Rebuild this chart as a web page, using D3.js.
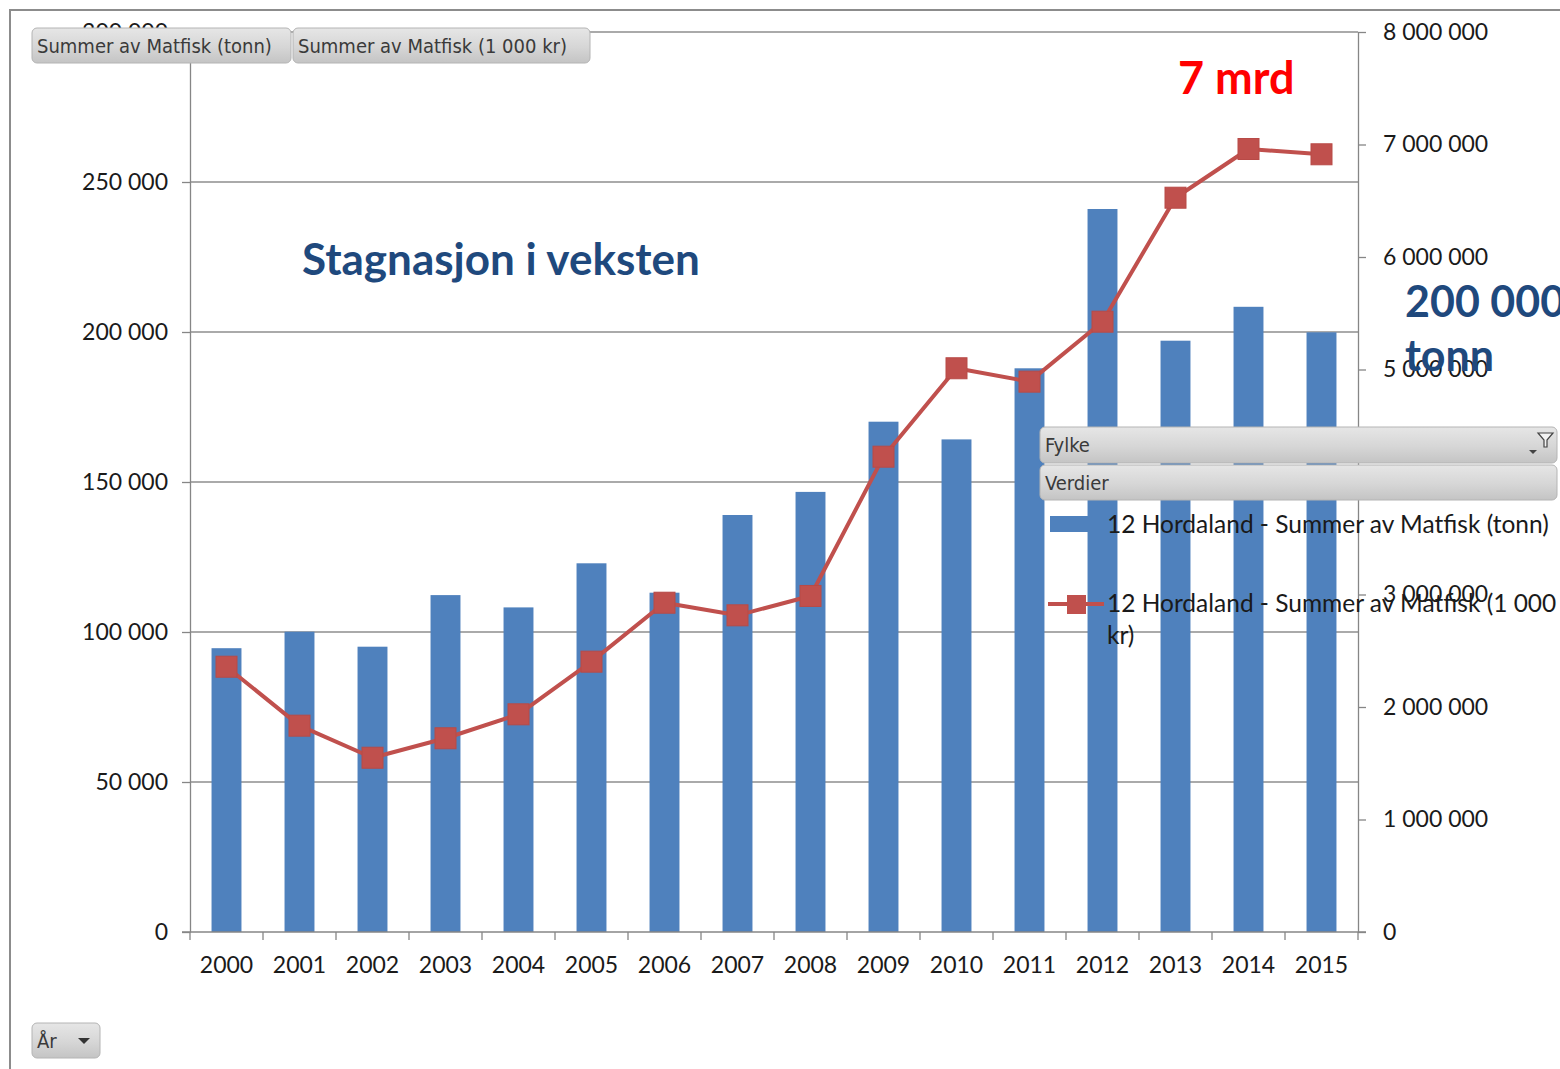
<!DOCTYPE html>
<html lang="no">
<head>
<meta charset="UTF-8">
<title>Matfisk Hordaland</title>
<script src="https://cdn.jsdelivr.net/npm/d3@7"></script>
<style>
  body { margin: 0; background: #fff; }
  text { font-family: Lato, "Open Sans", sans-serif; }
  .axis text { font-size: 23px; fill: #1a1a1a; }
  .axis path, .axis line { stroke: #868686; }
  .btn text { font-family: "DejaVu Sans Condensed", "DejaVu Sans", sans-serif; font-size: 20px; fill: #3a3a3a; }
</style>
</head>
<body>
<svg id="chart" width="1560" height="1069"></svg>
<script>
// data
const years = ['2000','2001','2002','2003','2004','2005','2006','2007','2008','2009','2010','2011','2012','2013','2014','2015']
const tonn = [94600, 100100, 95100, 112300, 108200, 122900, 113100, 139000, 146700, 170100, 164200, 187900, 241000, 197100, 208400, 199900]
const kroner = [2358000, 1834000, 1549000, 1722000, 1935000, 2403000, 2927000, 2815000, 2987000, 4225000, 5011000, 4892000, 5425000, 6527000, 6960000, 6913000]
const leftTicks = [0, 50000, 100000, 150000, 200000, 250000, 300000]
const rightTicks = [0, 1000000, 2000000, 3000000, 4000000, 5000000, 6000000, 7000000, 8000000]
const buttons = ['Summer av Matfisk (tonn)', 'Summer av Matfisk (1 000 kr)']
const legendItems = ['12 Hordaland - Summer av Matfisk (tonn)', '12 Hordaland - Summer av Matfisk (1 000', 'kr)']

const BLUE = '#4f81bd'
const RED = '#c0504d'

const svg = d3.select('#chart')
const plot = { left: 190, right: 1358, top: 32, bottom: 932 }

const fmt = v => d3.format(',')(v).replace(/,/g, ' ')

// scales
const x = d3.scaleBand()
  .domain(years)
  .range([plot.left, plot.right])
  .paddingInner(0.59)
  .paddingOuter(0.295)

const yL = d3.scaleLinear().domain([0, 300000]).range([plot.bottom, plot.top])
const yR = d3.scaleLinear().domain([0, 8000000]).range([plot.bottom, plot.top])

// gradient for the pivot buttons
const defs = svg.append('defs')
const grad = defs.append('linearGradient').attr('id', 'btnGrad').attr('x1', 0).attr('y1', 0).attr('x2', 0).attr('y2', 1)
grad.append('stop').attr('offset', '0%').attr('stop-color', '#e6e6e6')
grad.append('stop').attr('offset', '55%').attr('stop-color', '#d6d6d6')
grad.append('stop').attr('offset', '100%').attr('stop-color', '#c4c4c4')

// outer frame
svg.append('path')
  .attr('d', 'M10,1069 L10,10 L1560,10')
  .attr('fill', 'none')
  .attr('stroke', '#8c8c8c')
  .attr('stroke-width', 2)

// gridlines
svg.append('g')
  .selectAll('line')
  .data(leftTicks.filter(d => d > 0))
  .join('line')
  .attr('x1', plot.left).attr('x2', plot.right)
  .attr('y1', d => yL(d)).attr('y2', d => yL(d))
  .attr('stroke', '#8e8e8e')
  .attr('stroke-width', 1.3)

// bars
svg.append('g')
  .selectAll('rect')
  .data(years)
  .join('rect')
  .attr('x', d => x(d))
  .attr('y', (d, i) => yL(tonn[i]))
  .attr('width', x.bandwidth())
  .attr('height', (d, i) => plot.bottom - yL(tonn[i]))
  .attr('fill', BLUE)

// axes
const leftAxis = svg.append('g')
  .attr('class', 'axis')
  .attr('transform', `translate(${plot.left},0)`)
  .call(d3.axisLeft(yL).tickValues(leftTicks).tickFormat(fmt).tickSize(8).tickSizeOuter(0).tickPadding(14))
leftAxis.select('.domain').attr('stroke-width', 1.3)
leftAxis.selectAll('.tick line').attr('stroke-width', 1.3)

const rightAxis = svg.append('g')
  .attr('class', 'axis')
  .attr('transform', `translate(${plot.right},0)`)
  .call(d3.axisRight(yR).tickValues(rightTicks).tickFormat(fmt).tickSize(8).tickSizeOuter(0).tickPadding(17))
rightAxis.select('.domain').attr('stroke-width', 1.3)
rightAxis.selectAll('.tick line').attr('stroke-width', 1.3)

const bottomAxis = svg.append('g')
  .attr('class', 'axis')
  .attr('transform', `translate(0,${plot.bottom})`)
  .call(d3.axisBottom(x).tickSize(0).tickPadding(25))
bottomAxis.select('.domain').remove()
bottomAxis.selectAll('.tick text').attr('font-size', 23.5)
bottomAxis.append('line')
  .attr('x1', plot.left - 8).attr('x2', plot.right + 8)
  .attr('stroke', '#868686').attr('stroke-width', 1.3)
// tick marks on the category boundaries
const gap = (x.step() - x.bandwidth()) / 2
bottomAxis.append('g')
  .selectAll('line')
  .data(years.concat(['end']))
  .join('line')
  .attr('x1', d => d === 'end' ? plot.right : x(d) - gap)
  .attr('x2', d => d === 'end' ? plot.right : x(d) - gap)
  .attr('y1', 0).attr('y2', 8)
  .attr('stroke', '#868686').attr('stroke-width', 1.3)

// value line with square markers
const cx = d => x(d) + x.bandwidth() / 2
const line = d3.line()
  .x((d, i) => cx(years[i]))
  .y(d => yR(d))
svg.append('path')
  .datum(kroner)
  .attr('d', line)
  .attr('fill', 'none')
  .attr('stroke', RED)
  .attr('stroke-width', 4)
  .attr('stroke-linejoin', 'round')

const ms = 21
svg.append('g')
  .selectAll('rect')
  .data(kroner)
  .join('rect')
  .attr('x', (d, i) => cx(years[i]) - ms / 2)
  .attr('y', d => yR(d) - ms / 2)
  .attr('width', ms).attr('height', ms)
  .attr('fill', RED)
  .attr('stroke', '#b84a47')
  .attr('stroke-width', 1)

// annotations
svg.append('text')
  .attr('x', 302).attr('y', 275)
  .attr('font-size', 44).attr('font-weight', 'bold')
  .attr('fill', '#1f497d')
  .text('Stagnasjon i veksten')

svg.append('text')
  .attr('x', 1178).attr('y', 94)
  .attr('font-size', 45).attr('font-weight', 'bold')
  .attr('fill', '#ff0000')
  .text('7 mrd')

// pivot field buttons
function button(g, x0, y0, w, h, label) {
  const b = g.append('g').attr('class', 'btn')
  b.append('rect')
    .attr('x', x0).attr('y', y0).attr('width', w).attr('height', h)
    .attr('rx', 5)
    .attr('fill', 'url(#btnGrad)')
    .attr('stroke', '#b4b4b4')
  b.append('text')
    .attr('x', x0 + 5).attr('y', y0 + h / 2 + 7)
    .text(label)
  return b
}

button(svg, 32, 28, 259, 35, buttons[0])
button(svg, 293, 28, 297, 35, buttons[1])

// legend panel
const lg = svg.append('g')
button(lg, 1040, 427, 517, 36, 'Fylke')
button(lg, 1040, 465, 517, 35, 'Verdier')
// filter icon and dropdown arrow
lg.append('path')
  .attr('d', 'M1538,433 L1553,433 L1547,440 L1547,447 L1544,447 L1544,440 Z')
  .attr('fill', '#f2f2f2').attr('stroke', '#444').attr('stroke-width', 1.2)
lg.append('path')
  .attr('d', 'M1529,450 L1537,450 L1533,454 Z')
  .attr('fill', '#444')

lg.append('rect')
  .attr('x', 1050).attr('y', 516).attr('width', 41).attr('height', 16)
  .attr('fill', BLUE)
lg.append('text')
  .attr('x', 1107).attr('y', 533)
  .attr('font-size', 24.5).attr('fill', '#1a1a1a')
  .text(legendItems[0])

lg.append('line')
  .attr('x1', 1048).attr('x2', 1104).attr('y1', 604).attr('y2', 604)
  .attr('stroke', RED).attr('stroke-width', 4)
lg.append('rect')
  .attr('x', 1067).attr('y', 595).attr('width', 19).attr('height', 19)
  .attr('fill', RED)
lg.append('text')
  .attr('x', 1107).attr('y', 612)
  .attr('font-size', 24.5).attr('fill', '#1a1a1a')
  .text(legendItems[1])
lg.append('text')
  .attr('x', 1107).attr('y', 644)
  .attr('font-size', 24.5).attr('fill', '#1a1a1a')
  .text(legendItems[2])

// tonnage note over the right axis
svg.append('text')
  .attr('x', 1405).attr('y', 317)
  .attr('font-size', 43).attr('font-weight', 'bold')
  .attr('fill', '#1f497d')
  .text('200 000')
svg.append('text')
  .attr('x', 1405).attr('y', 371)
  .attr('font-size', 43).attr('font-weight', 'bold')
  .attr('fill', '#1f497d')
  .text('tonn')

// year filter button
const yb = button(svg, 32, 1023, 68, 35, 'År')
yb.select('text').attr('font-size', 22)
yb.append('path')
  .attr('d', 'M78,1038 L90,1038 L84,1044 Z')
  .attr('fill', '#333')
</script>
</body>
</html>
